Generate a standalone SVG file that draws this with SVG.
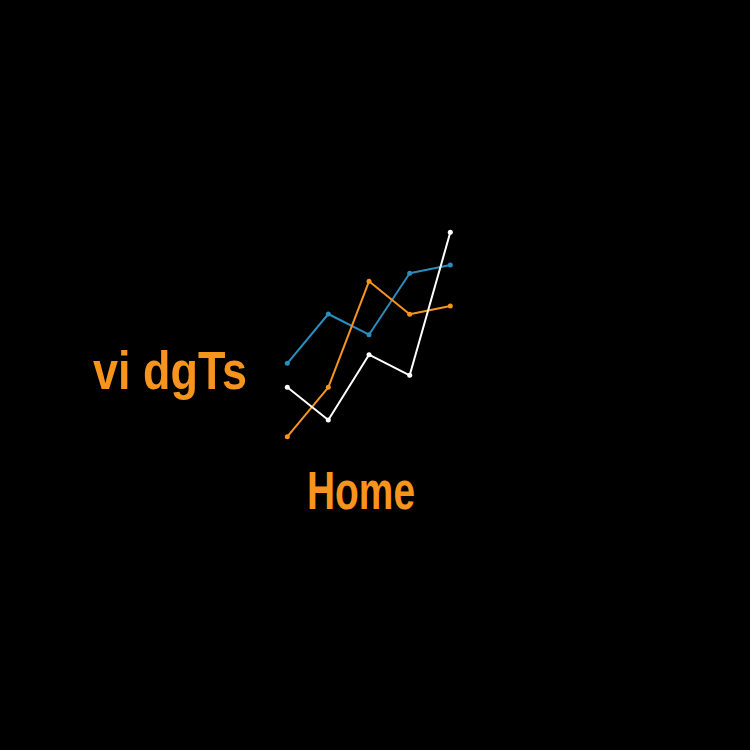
<svg xmlns="http://www.w3.org/2000/svg" width="750" height="750" viewBox="0 0 750 750">
<style>
.bg{fill:#000}
.ln{fill:none;stroke-width:2;stroke-linejoin:round;stroke-linecap:round}
.blue{stroke:#2b8cbe}
.orange{stroke:#f7941d}
.white{stroke:#fff}
.dblue{fill:#2b8cbe}
.dorange{fill:#f7941d}
.dwhite{fill:#fff}
.t{fill:#f7941d;font-family:"Liberation Sans","DejaVu Sans",sans-serif;font-weight:bold}
</style>
<rect class="bg" x="0" y="0" width="750" height="750"/>
<g id="connectors">
<polyline class="ln blue" points="287.3,363.3 328.3,314 369,334.7 409.7,273.3 450.3,265"/>
<polyline class="ln orange" points="287.3,436.7 328.3,387.3 369,281.3 409.7,314.3 450.3,306"/>
<polyline class="ln white" points="287.3,387.3 328.3,420 369,354.7 409.7,375.3 450.3,232.3"/>
</g>
<g id="blue-dots" class="dblue">
<circle cx="287.3" cy="363.3" r="2.5"/><circle cx="328.3" cy="314" r="2.5"/><circle cx="369" cy="334.7" r="2.5"/><circle cx="409.7" cy="273.3" r="2.5"/><circle cx="450.3" cy="265" r="2.5"/>
</g>
<g id="orange-dots" class="dorange">
<circle cx="287.3" cy="436.7" r="2.5"/><circle cx="328.3" cy="387.3" r="2.5"/><circle cx="369" cy="281.3" r="2.5"/><circle cx="409.7" cy="314.3" r="2.5"/><circle cx="450.3" cy="306" r="2.5"/>
</g>
<g id="white-dots" class="dwhite">
<circle cx="287.3" cy="387.3" r="2.5"/><circle cx="328.3" cy="420" r="2.5"/><circle cx="369" cy="354.7" r="2.5"/><circle cx="409.7" cy="375.3" r="2.5"/><circle cx="450.3" cy="232.3" r="2.5"/>
</g>
<g id="title">
<text class="t" x="93" y="389" font-size="54" textLength="154" lengthAdjust="spacingAndGlyphs">vi dgTs</text>
</g>
<g id="home">
<text class="t" x="307" y="509" font-size="54" textLength="108" lengthAdjust="spacingAndGlyphs">Home</text>
</g>
</svg>
